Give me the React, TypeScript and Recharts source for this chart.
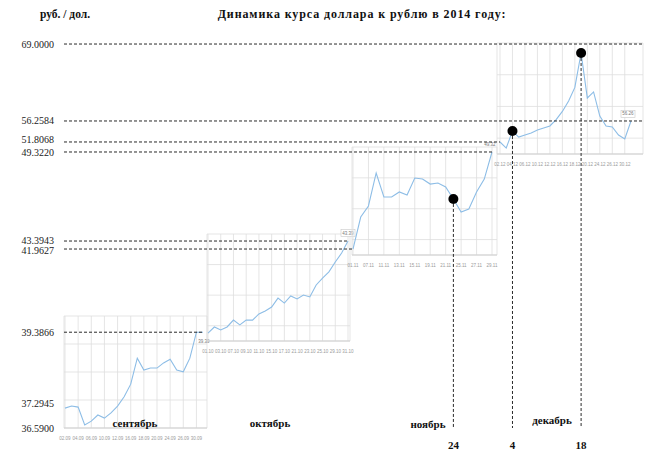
import React from 'react';
import { LineChart, Line, XAxis, YAxis, CartesianGrid, ReferenceLine, ReferenceDot } from 'recharts';

const W = 650;
const H = 460;
const FRAME = { left: 64, right: 648, top: 44, bottom: 428 };
const LABEL_X = 54;
const AXIS_H = 12;
const SERIF = '"Liberation Serif", "Times New Roman", serif';

// курс ЦБ по дням
const sepDates = ['02.09', '03.09', '04.09', '05.09', '06.09', '09.09', '10.09', '11.09', '12.09', '13.09', '16.09', '17.09', '18.09', '19.09', '20.09', '23.09', '24.09', '25.09', '26.09', '27.09', '30.09', '01.10'];
const sepRub = [37.17, 37.23, 37.2, 36.68, 36.79, 36.97, 36.88, 37.03, 37.23, 37.5, 37.87, 38.63, 38.28, 38.34, 38.34, 38.49, 38.6, 38.28, 38.23, 38.63, 39.3866, 39.3866];

const octDates = ['01.10', '02.10', '03.10', '04.10', '07.10', '08.10', '09.10', '10.10', '11.10', '14.10', '15.10', '16.10', '17.10', '18.10', '21.10', '22.10', '23.10', '24.10', '25.10', '28.10', '29.10', '30.10', '31.10'];
const octRub = [39.3866, 39.65, 39.52, 39.65, 39.95, 39.74, 39.95, 39.95, 40.22, 40.35, 40.52, 40.91, 40.69, 41.0, 40.87, 41.04, 40.96, 41.48, 41.78, 42.05, 42.48, 42.87, 43.3943];

const novDates = ['01.11', '06.11', '07.11', '08.11', '11.11', '12.11', '13.11', '14.11', '15.11', '18.11', '19.11', '20.11', '21.11', '22.11', '25.11', '26.11', '27.11', '28.11', '29.11'];
const novRub = [41.9627, 44.39, 45.23, 47.73, 45.91, 45.91, 46.29, 46.06, 47.35, 47.27, 46.89, 46.97, 46.67, 45.76, 44.77, 45.0, 46.29, 47.27, 49.322];

const decDates = ['02.12', '03.12', '04.12', '05.12', '06.12', '09.12', '10.12', '11.12', '12.12', '13.12', '16.12', '17.12', '18.12', '19.12', '20.12', '23.12', '24.12', '25.12', '26.12', '27.12', '30.12', '31.12'];
const decRub = [52.78, 51.78, 54.6, 53.6, 53.94, 54.27, 54.76, 55.09, 55.43, 56.5, 57.84, 59.56, 61.82, 67.51, 60.06, 61.06, 57.08, 55.43, 55.26, 53.94, 53.27, 56.2584];

const yLabels = ['69.0000', '56.2584', '51.8068', '49.3220', '43.3943', '41.9627', '39.3866', '37.2945', '36.5900'];
const dayLabels = ['24', '4', '18'];
const monthNames = ['сентябрь', 'октябрь', 'ноябрь', 'декабрь'];

type Box = { left: number; right: number; top: number; bottom: number; padL: number; padR: number; rows: number; domain: [number, number] };

const sepBox: Box = { left: 64, right: 207, top: 316, bottom: 428, padL: 1, padR: 4, rows: 8, domain: [36.59, 39.86] };
const octBox: Box = { left: 207, right: 350, top: 234, bottom: 341, padL: 1, padR: 2, rows: 7, domain: [39.04, 43.7] };
const novBox: Box = { left: 352, right: 497, top: 147, bottom: 255, padL: 1, padR: 5, rows: 7, domain: [41.51, 49.7] };
const decBox: Box = { left: 497, right: 643, top: 43, bottom: 154, padL: 3, padR: 12, rows: 7, domain: [50.79, 69.17] };

const dash = { stroke: '#2a2a2a', strokeWidth: 1, strokeDasharray: '3 2' };

const axisText = (y: number, text: string, dy = 0) => (
  <text x={LABEL_X} y={y + dy} textAnchor="end" dominantBaseline="central" fontFamily={SERIF} fontSize={10} fill="#222">
    {text}
  </text>
);

// горизонтальная пунктирная линия от оси до точки графика
const toPoint = (rub: number[], idx: number, text: string, dy = 0) => (
  <ReferenceDot
    key={'h' + text}
    x={idx}
    y={rub[idx]}
    ifOverflow="visible"
    shape={(p: any) => (
      <g>
        <line x1={FRAME.left} x2={p.cx} y1={p.cy} y2={p.cy} {...dash} />
        {axisText(p.cy, text, dy)}
      </g>
    )}
  />
);

// горизонтальная линия на уровне значения через весь мини-график
const toEdge = (v: number, text: string) => (
  <ReferenceLine
    key={'e' + text}
    y={v}
    ifOverflow="visible"
    shape={(p: any) => (
      <g>
        <line x1={FRAME.left} x2={p.x2} y1={p.y1} y2={p.y1} {...dash} />
        {axisText(p.y1, text)}
      </g>
    )}
  />
);

const onlyLabel = (v: number, text: string) => (
  <ReferenceLine key={'l' + text} y={v} ifOverflow="visible" shape={(p: any) => axisText(p.y1, text)} />
);

// вертикальная линия от отмеченной точки вниз до оси
const marker = (rub: number[], idx: number, text: string) => (
  <ReferenceDot
    key={'v' + text}
    x={idx}
    y={rub[idx]}
    ifOverflow="visible"
    shape={(p: any) => (
      <g>
        <line x1={p.cx} x2={p.cx} y1={p.cy} y2={FRAME.bottom} {...dash} />
        <circle cx={p.cx} cy={p.cy} r={5} fill="#000" />
        <text x={p.cx} y={FRAME.bottom + 17} textAnchor="middle" dominantBaseline="central" fontFamily={SERIF} fontWeight="bold" fontSize={11} fill="#111">
          {text}
        </text>
      </g>
    )}
  />
);

const endLabel = (rub: number[], dx: number, dy: number, boxed: boolean) => {
  const idx = rub.length - 1;
  return (
    <ReferenceDot
      key="end"
      x={idx}
      y={rub[idx]}
      ifOverflow="visible"
      shape={(p: any) => (
        <g>
          {boxed && <rect x={p.cx + dx - 7} y={p.cy + dy - 3.5} width={14} height={7} fill="#fff" stroke="#c8c8c8" strokeWidth={0.6} />}
          <text x={p.cx + dx} y={p.cy + dy} textAnchor="middle" dominantBaseline="central" fontFamily="Liberation Sans" fontSize={4.5} fill="#777">
            {rub[idx].toFixed(2)}
          </text>
        </g>
      )}
    />
  );
};

const MonthChart = ({ dates, rub, box, children }: { dates: string[]; rub: number[]; box: Box; children?: React.ReactNode }) => {
  const rows = dates.map((d, i) => ({ i, d, rub: rub[i] }));
  const xTicks = dates.map((_, i) => i).filter((i) => i % 2 === 0);
  const [y0, y1] = box.domain;
  const yTicks = Array.from({ length: box.rows + 1 }, (_, k) => y0 + ((y1 - y0) * k) / box.rows);
  return (
    <div style={{ position: 'absolute', left: 0, top: 0 }}>
      <LineChart
        width={W}
        height={H}
        data={rows}
        margin={{ left: box.left, right: W - box.right, top: box.top, bottom: H - box.bottom - AXIS_H }}
      >
        <CartesianGrid stroke="#dedede" strokeWidth={0.8} />
        <XAxis
          dataKey="i"
          type="number"
          domain={[0, dates.length - 1]}
          ticks={xTicks}
          interval={0}
          tickFormatter={(i: number) => dates[i]}
          height={AXIS_H}
          padding={{ left: box.padL, right: box.padR }}
          tickLine={false}
          axisLine={{ stroke: '#d0d0d0' }}
          tickMargin={3}
          tick={{ fontSize: 4.5, fill: '#9a9a9a', fontFamily: 'Liberation Sans' }}
        />
        <YAxis hide type="number" domain={box.domain} ticks={yTicks} allowDataOverflow />
        <Line dataKey="rub" stroke="#8dbde6" strokeWidth={1.1} dot={false} isAnimationActive={false} />
        {children}
      </LineChart>
    </div>
  );
};

const textStyle = (x: number, y: number, size: number): React.CSSProperties => ({
  position: 'absolute',
  left: x,
  top: y,
  transform: 'translate(-50%, -50%)',
  fontFamily: SERIF,
  fontWeight: 'bold',
  fontSize: size,
  color: '#111',
  whiteSpace: 'nowrap',
});

const monthPos = [
  [135, 423],
  [270, 423],
  [428, 424],
  [552, 420],
];

export default function App() {
  return (
    <div style={{ position: 'relative', width: W, height: H, background: '#fff', overflow: 'hidden' }}>
      <style>{'body{margin:0}'}</style>
      <div style={textStyle(65, 14, 11.5)}>руб. / дол.</div>
      <div style={{ ...textStyle(362, 14, 12), letterSpacing: 0.9 }}>Динамика курса доллара к рублю в 2014 году:</div>

      <div style={{ position: 'absolute', left: 0, top: 0 }}>
        <LineChart width={W} height={H} data={[]} margin={{ left: FRAME.left, right: W - FRAME.right, top: FRAME.top, bottom: H - FRAME.bottom }}>
          <XAxis type="number" domain={[0, 1]} height={0} tick={false} tickLine={false} axisLine={{ stroke: '#555', strokeWidth: 1.2 }} />
          <YAxis type="number" domain={[0, 1]} width={0} tick={false} tickLine={false} axisLine={{ stroke: '#555', strokeWidth: 1.2 }} />
        </LineChart>
      </div>

      <MonthChart dates={sepDates} rub={sepRub} box={sepBox}>
        {toPoint(sepRub, sepRub.length - 1, yLabels[6])}
        {onlyLabel(Number(yLabels[7]), yLabels[7])}
        {onlyLabel(Number(yLabels[8]), yLabels[8])}
        {endLabel(sepRub, 1, 9, false)}
      </MonthChart>

      <MonthChart dates={octDates} rub={octRub} box={octBox}>
        {toPoint(octRub, octRub.length - 1, yLabels[4], -1)}
        {endLabel(octRub, 0, -8, true)}
      </MonthChart>

      <MonthChart dates={novDates} rub={novRub} box={novBox}>
        {toPoint(novRub, novRub.length - 1, yLabels[3], 1)}
        {toPoint(novRub, 0, yLabels[5], 1)}
        {marker(novRub, 13, dayLabels[0])}
        {endLabel(novRub, -2, -7, false)}
      </MonthChart>

      <MonthChart dates={decDates} rub={decRub} box={decBox}>
        {toEdge(Number(yLabels[0]), yLabels[0])}
        {toEdge(decRub[decRub.length - 1], yLabels[1])}
        {toPoint(decRub, 0, yLabels[2], -2)}
        {marker(decRub, 2, dayLabels[1])}
        {marker(decRub, 13, dayLabels[2])}
        {endLabel(decRub, -3, -7, true)}
      </MonthChart>

      {monthNames.map((m, k) => (
        <div key={m} style={textStyle(monthPos[k][0], monthPos[k][1], 11)}>
          {m}
        </div>
      ))}
    </div>
  );
}
